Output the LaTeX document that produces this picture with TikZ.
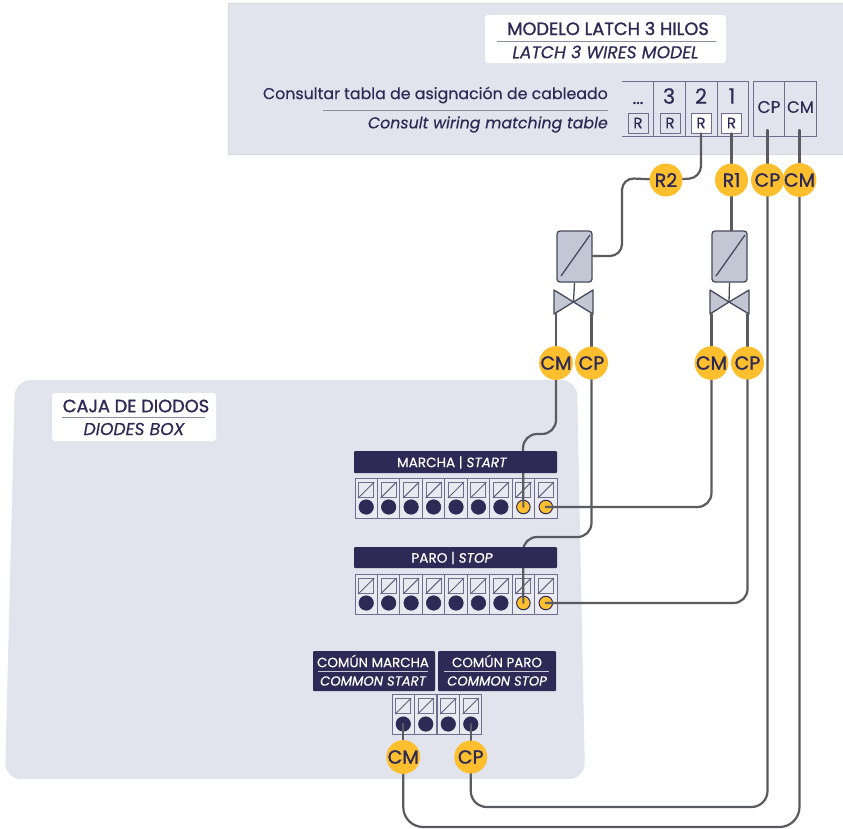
\documentclass[tikz,border=0pt]{standalone}
\usepackage{fontspec}
\setmainfont[FakeBold=0.4]{Poppins}
\newfontfamily\headfont[FakeBold=1.4]{Poppins}
\pgfdeclarelayer{under}
\pgfdeclarelayer{wires}
\pgfsetlayers{under,wires,main}
\definecolor{panel}{HTML}{E1E4EC}
\definecolor{ink}{HTML}{2E2A55}
\definecolor{rulec}{HTML}{8A8E9E}
\definecolor{gold}{HTML}{FDBF2D}
\definecolor{wirec}{HTML}{5A5B60}
\definecolor{frame}{HTML}{6F6E90}
\definecolor{solfill}{HTML}{C3C7D3}
\definecolor{soldraw}{HTML}{474A5C}
\definecolor{cellfill}{HTML}{E8EAF0}
\tikzset{
  wire/.style={draw=wirec,line width=2.2pt,line cap=round},
  badge/.style={circle,fill=gold,inner sep=0pt,minimum size=33pt,text=ink,font=\fontsize{19}{20}\headfont},
  tlabel/.style={text=ink,inner sep=0pt,font=\fontsize{15.8}{17}\selectfont},
  thead/.style={text=ink,inner sep=0pt,font=\fontsize{17.8}{19}\headfont},
  tital/.style={text=ink,inner sep=0pt,font=\fontsize{17.2}{19}\selectfont\itshape},
  barbox/.style={fill=ink,rounded corners=1pt,inner sep=0pt},
  bartext/.style={text=white,inner sep=0pt,font=\fontsize{13.4}{14}\selectfont},
  cellbox/.style={draw=frame,line width=1pt,fill=cellfill,inner sep=0pt,minimum width=22.45pt,minimum height=40pt},
  sq/.style={draw=frame,line width=1pt,inner sep=0pt,minimum size=15pt},
  term/.style={circle,draw=ink,fill=ink,line width=.6pt,inner sep=0pt,minimum size=14.5pt},
  termy/.style={circle,draw=ink,fill=gold,line width=1pt,inner sep=0pt,minimum size=13.5pt},
  tcell/.style={draw=frame,line width=1pt,inner sep=0pt},
  rbox/.style={draw=frame,line width=1pt,inner sep=0pt,minimum width=20pt,minimum height=20pt,text=ink,font=\fontsize{15}{16}\selectfont},
  sol/.style={draw=soldraw,fill=solfill,line width=1.3pt,rounded corners=3pt,inner sep=0pt,minimum width=35pt,minimum height=51pt},
  valvep/.style={draw=soldraw,fill=solfill,line width=1.3pt,line join=round},
  rulep/.style={draw=rulec,line width=1pt},
}
\begin{document}
\begin{tikzpicture}[x=1pt,y=-1pt]
\useasboundingbox (0,0) rectangle (843,828);
\begin{pgfonlayer}{under}
  % panels
  \fill[white] (0,0) rectangle (843,828);
  \fill[panel] (228,3) rectangle (843,154);
  \draw[draw=white!85!black,line width=.6pt] (843,3) -- (228,3) -- (228,154) -- (843,154);
  \fill[panel,rounded corners=16pt] (15,380) -- (577,380) -- (585,779) -- (5,779) -- cycle;
  % top table
  \draw[tcell] (622,81) -- (748,81) -- (748,136) -- (622,136);
  \draw[tcell] (653,81) -- (653,136) (685,81) -- (685,136) (717,81) -- (717,136);
  \node[tcell,minimum width=63pt,minimum height=55pt] (cpcm) at (784.5,108.5) {};
  \draw[tcell] (784.5,81) -- (784.5,136);
  \foreach \n/\x/\f in {d/638/panel,c/670/panel,b/701/white,a/731.5/white}
    \node[rbox,fill=\f] (r\n) at (\x,123) {R};
\end{pgfonlayer}
% table texts
\node[inner sep=0pt,text=ink,font=\fontsize{17}{18}\headfont] (tdots) at (638,103) {...};
\node[inner sep=0pt,text=ink,font=\fontsize{21}{22}\selectfont] (t3) at (669,96) {3};
\node[inner sep=0pt,text=ink,font=\fontsize{21}{22}\selectfont] (t2) at (701,96) {2};
\node[inner sep=0pt,text=ink,font=\fontsize{21}{22}\selectfont] (t1) at (732,96) {1};
\node[inner sep=0pt,text=ink,font=\fontsize{17}{18}\selectfont] (tcp) at (769,107) {CP};
\node[inner sep=0pt,text=ink,font=\fontsize{16.5}{18}\selectfont] (tcm) at (800.5,107) {CM};
\coordinate (cpEnd) at (767.5,130);
\coordinate (cmEnd) at (799.5,130);
% title
\node[fill=white,rounded corners=3pt,minimum width=241pt,minimum height=48pt,inner sep=0pt] (titlebox) at (605.5,39) {};
\node[thead] (title1) at (608,28.5) {MODELO LATCH 3 HILOS};
\draw[rulep] (497,41) -- (716,41);
\node[tital] (title2) at (605.5,52) {LATCH 3 WIRES MODEL};
\node[tlabel,anchor=east] (consult1) at (608,95) {Consultar tabla de asignación de cableado};
\draw[rulep] (323,110) -- (608,110);
\node[tlabel,anchor=east,font=\fontsize{15.8}{17}\selectfont\itshape] (consult2) at (608,124.5) {Consult wiring matching table};
% diode box title
\node[fill=white,rounded corners=3pt,minimum width=164pt,minimum height=48pt,inner sep=0pt] (diobox) at (134,417) {};
\node[thead] (dio1) at (136,406) {CAJA DE DIODOS};
\draw[rulep] (62,417.5) -- (205,417.5);
\node[tital] (dio2) at (134,429) {DIODES BOX};
% badges
\node[badge] (R2) at (666,180) {R2};
\node[badge] (R1) at (731.5,180) {R1};
\node[badge] (CPt) at (767.5,180) {CP};
\node[badge] (CMt) at (799.5,180) {CM};
\node[badge] (CMa) at (556,363) {CM};
\node[badge] (CPa) at (591.5,363) {CP};
\node[badge] (CMb) at (711.5,363) {CM};
\node[badge] (CPb) at (747.5,363) {CP};
\node[badge] (CMc) at (403.25,757) {CM};
\node[badge] (CPc) at (470.75,757) {CP};
% solenoids and valves
\node[sol] (solA) at (574.5,256.5) {};
\draw[draw=soldraw,line width=1.3pt] (561,276) -- (590,235);
\node[sol] (solB) at (729.5,256.5) {};
\draw[draw=soldraw,line width=1.3pt] (716,276) -- (745,235);
\coordinate (vA) at (573.5,302);
\coordinate (vB) at (729,302);
\coordinate (vAl) at (556,314);
\coordinate (vAr) at (591.5,314);
\coordinate (vBl) at (711.5,314);
\coordinate (vBr) at (747.5,314);
\begin{pgfonlayer}{under}
  \draw[draw=soldraw,line width=1.3pt] (solA.south) -- (vA);
  \draw[draw=soldraw,line width=1.3pt] (solB.south) -- (vB);
  \draw[valvep] (vA) -- (554,290) -- (554,314) -- cycle;
  \draw[valvep] (vA) -- (593,290) -- (593,314) -- cycle;
  \draw[valvep] (vB) -- (710,290) -- (710,314) -- cycle;
  \draw[valvep] (vB) -- (749,290) -- (749,314) -- cycle;
  % MARCHA / PARO strips
  \foreach \row/\ytop in {m/478,p/574} {
    \foreach \i in {1,...,9} {
      \pgfmathsetmacro\cx{355+22.45*(\i-.5)}
      \pgfmathsetmacro\cy{\ytop+20}
      \pgfmathsetmacro\sy{\ytop+12}
      \pgfmathsetmacro\ty{\ytop+29}
      \node[cellbox] (\row cell\i) at (\cx,\cy) {};
      \node[sq] (\row sq\i) at (\cx,\sy) {};
      \draw[draw=ink!75,line width=1pt] (\row sq\i.south west) -- (\row sq\i.north east);
      \ifnum\i<8
        \node[term] (\row t\i) at (\cx,\ty) {};
      \else
        \node[termy] (\row t\i) at (\cx,\ty) {};
      \fi
    }
  }
  % common strip
  \foreach \i in {1,...,4} {
    \pgfmathsetmacro\cx{392+22.5*(\i-.5)}
    \node[cellbox] (ccell\i) at (\cx,714) {};
    \node[sq] (csq\i) at (\cx,706) {};
    \draw[draw=ink!75,line width=1pt] (csq\i.south west) -- (csq\i.north east);
    \node[term] (ct\i) at (\cx,724) {};
  }
\end{pgfonlayer}
% bars
\node[barbox,minimum width=203pt,minimum height=22pt] (barM) at (455.5,462) {};
\node[bartext,font=\fontsize{13.6}{14}\selectfont] (barMt) at (452,462.5) {MARCHA | \textit{START}};
\node[barbox,minimum width=203pt,minimum height=21pt] (barP) at (455.5,557.5) {};
\node[bartext,font=\fontsize{13.6}{14}\selectfont] (barPt) at (452,558) {PARO | \textit{STOP}};
\node[barbox,minimum width=122pt,minimum height=40pt] (barC1) at (374,671) {};
\node[barbox,minimum width=118pt,minimum height=40pt] (barC2) at (497,671) {};
\node[bartext] (c1a) at (373,661) {COMÚN MARCHA};
\node[bartext,font=\fontsize{13.2}{14}\selectfont\itshape] (c1b) at (373,681) {COMMON START};
\node[bartext] (c2a) at (497,661) {COMÚN PARO};
\node[bartext,font=\fontsize{13.2}{14}\selectfont\itshape] (c2b) at (497,681) {COMMON STOP};
\draw[draw=white!75!ink,line width=.8pt] (318,671.5) -- (428,671.5) (444,671.5) -- (549,671.5);
% wires
\begin{pgfonlayer}{wires}
  \draw[wire,rounded corners=12pt] (rb.south) -- (701,178) -- (R2.center) -- (622,178) -- (622,256) -- (solA.east |- 0,256);
  \draw[wire] (ra.south) -- (R1.center) -- (R1.center |- solB.north);
  \draw[wire] (cpEnd) -- (CPt.center);
  \draw[wire] (cmEnd) -- (CMt.center);
  \draw[wire] (vAl) -- (CMa.center);
  \draw[wire] (vAr) -- (CPa.center);
  \draw[wire] (vBl) -- (CMb.center);
  \draw[wire] (vBr) -- (CPb.center);
  \draw[wire,rounded corners=14pt] (CMa.center) -- (556,434) -- (523,434) -- (mt8.center);
  \draw[wire,rounded corners=14pt] (CPa.center) -- (591.5,537) -- (523,537) -- (pt8.center);
  \draw[wire,rounded corners=14pt] (CMb.center) -- (711.5,507) -- (mt9.center);
  \draw[wire,rounded corners=14pt] (CPb.center) -- (747.5,603) -- (pt9.center);
  \draw[wire] (ct1.center) -- (CMc.center);
  \draw[wire] (ct4.center) -- (CPc.center);
  \draw[wire,rounded corners=20pt] (CMc.center) -- (403.25,827) -- (799.5,827) -- (CMt.center);
  \draw[wire,rounded corners=16pt] (CPc.center) -- (470.75,807) -- (767.5,807) -- (CPt.center);
\end{pgfonlayer}
\end{tikzpicture}
\end{document}
